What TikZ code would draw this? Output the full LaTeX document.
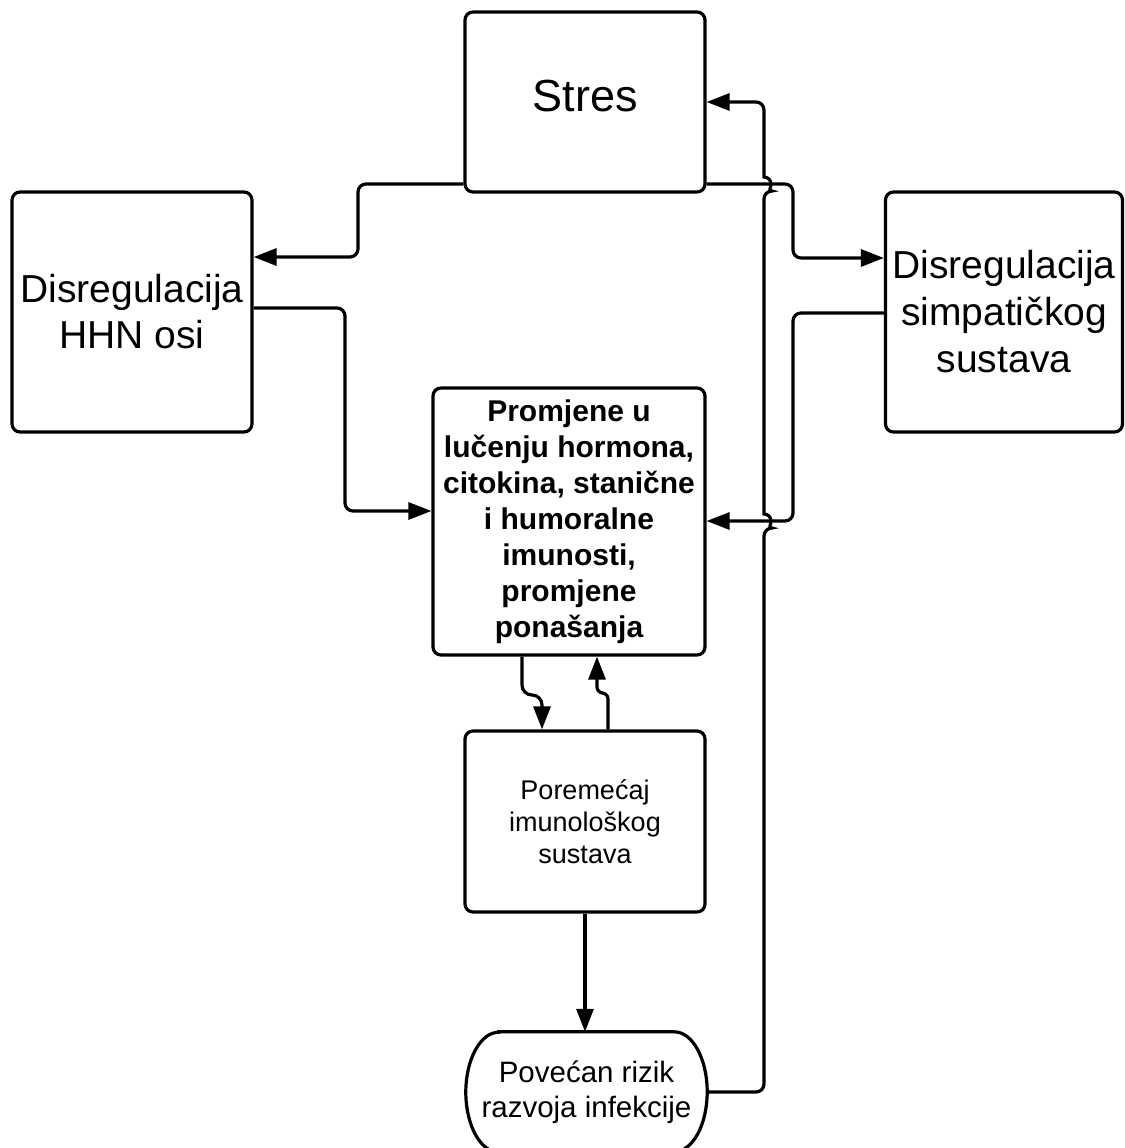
\documentclass[tikz,border=0pt]{standalone}
\usepackage{fontspec}
\setmainfont{Liberation Sans}
\usetikzlibrary{arrows.meta}
\begin{document}
\begin{tikzpicture}[x=1pt,y=-1pt,
  box/.style={draw, line width=3.2pt, rounded corners=8pt, rectangle, inner sep=0pt, align=center},
  conn/.style={line width=3.2pt, rounded corners=8pt, -{Triangle[length=23pt,width=17pt]}},
  outline/.style={line width=3.2pt}]
\useasboundingbox (0,0) rectangle (1124,1148);
\fill[white] (0,0) rectangle (1124,1148);

\node[box, minimum width=240pt, minimum height=180pt, text depth=13pt, font=\fontsize{45}{52}\selectfont] (stres) at (585,102) {Stres};
\node[box, minimum width=240pt, minimum height=240pt, font=\fontsize{39}{46}\selectfont] (hhn) at (132,312) {Disregulacija\\HHN osi};
\node[box, minimum width=237pt, minimum height=240pt, font=\fontsize{39}{47}\selectfont] (simp) at (1004,312) {Disregulacija\\simpatičkog\\sustava};
\node[box, minimum width=272pt, minimum height=267pt, font=\fontsize{30}{36}\selectfont\bfseries] (prom) at (569,521.5) {Promjene u\\lučenju hormona,\\citokina, stanične\\i humoralne\\imunosti,\\promjene\\ponašanja};
\node[box, minimum width=240pt, minimum height=181pt, font=\fontsize{27}{32}\selectfont] (por) at (585,821.5) {Poremećaj\\imunološkog\\sustava};
\node[rectangle, inner sep=0pt, minimum width=241pt, minimum height=120pt, align=center, font=\fontsize{29.5}{35}\selectfont] (rizik) at (586.5,1092) {Povećan rizik\\razvoja infekcije};
\draw[outline] ([xshift=33pt]rizik.north west) -- ([xshift=-33pt]rizik.north east)
  arc[start angle=90, end angle=-90, x radius=33pt, y radius=60pt]
  -- ([xshift=33pt]rizik.south west)
  arc[start angle=270, end angle=90, x radius=33pt, y radius=60pt] -- cycle;

% connectors
\draw[conn] (stres.west |- 0,184) -- (358,184) -- (358,257) -- (hhn.east |- 0,257);
\draw[conn] (stres.east |- 0,184) -- (793,184) -- (793,258) -- (simp.west |- 0,258);
\draw[conn] (hhn.east |- 0,308) -- (345,308) -- (345,511) -- (prom.west |- 0,511);
\draw[conn] (simp.west |- 0,313) -- (793,313) -- (793,521) -- (prom.east |- 0,521);
\draw[conn] (rizik.east) -- (764,1092) -- (764,528)
  {[sharp corners] arc[start angle=-90, end angle=90, radius=7pt]} -- (764,191)
  {[sharp corners] arc[start angle=-90, end angle=90, radius=7pt]} -- (764,102) -- (stres.east |- 0,102);
\draw[conn, rounded corners=10pt] (prom.south -| 522,0) -- (522,695) -- (542,695) -- (por.north -| 542,0);
\draw[conn, rounded corners=6pt] (por.north -| 608,0) -- (608,693) -- (597,693) -- (prom.south -| 597,0);
\draw[conn] (por.south -| 585,0) -- (rizik.north -| 585,0);
\end{tikzpicture}
\end{document}
